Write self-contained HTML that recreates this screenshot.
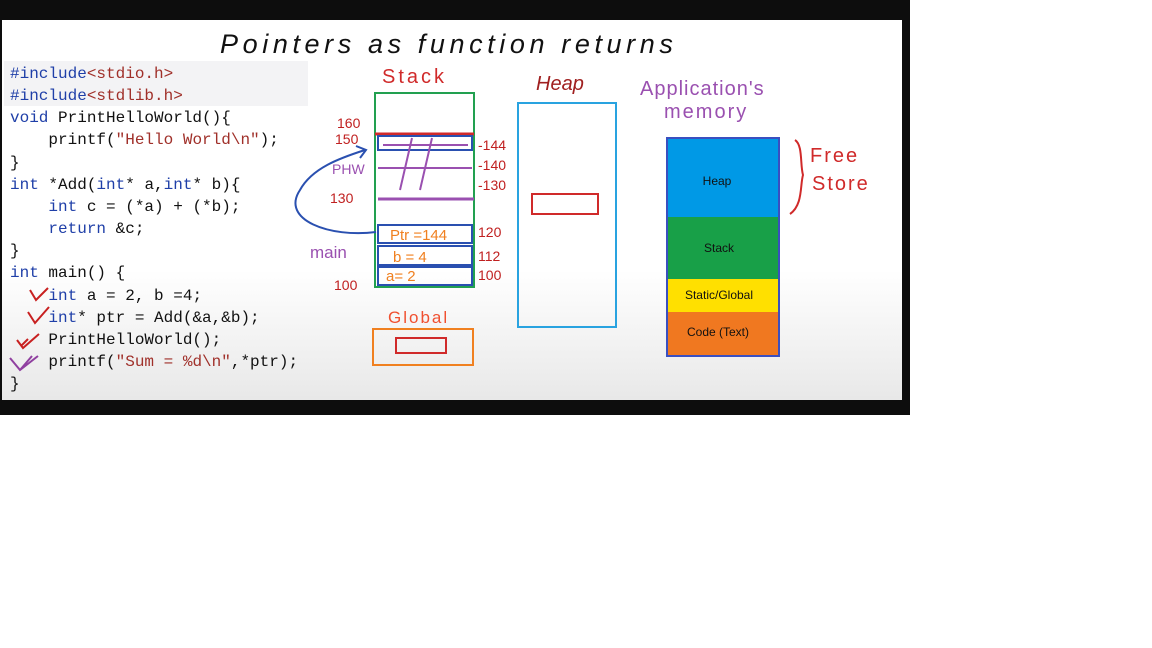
<!DOCTYPE html>
<html><head><meta charset="utf-8"><style>
body{margin:0;width:1152px;height:648px;background:#fff;position:relative;overflow:hidden;font-family:"Liberation Sans",sans-serif}
#frame{position:absolute;left:0;top:0;width:910px;height:415px;background:#0d0d0d}
#slide{position:absolute;left:2px;top:20px;width:900px;height:380px;background:linear-gradient(#fff 0,#fff 250px,#e8e8e8 380px)}
#code{position:absolute;left:8px;top:43px;font:16px/22.15px "Liberation Mono",monospace;color:#111;white-space:pre;margin:0}
.k{color:#1f3fa8}.s{color:#a0302a}
#inc{position:absolute;left:2px;top:41px;width:304px;height:45px;background:#f3f3f5}
svg{position:absolute;left:0;top:0}
</style></head><body>
<div id="frame"></div>
<div id="slide">
<div id="inc"></div>
<pre id="code"><span class="k">#include</span><span class="s">&lt;stdio.h&gt;</span>
<span class="k">#include</span><span class="s">&lt;stdlib.h&gt;</span>
<span class="k">void</span> PrintHelloWorld(){
    printf(<span class="s">"Hello World\n"</span>);
}
<span class="k">int</span> *Add(<span class="k">int</span>* a,<span class="k">int</span>* b){
    <span class="k">int</span> c = (*a) + (*b);
    <span class="k">return</span> &amp;c;
}
<span class="k">int</span> main() {
    <span class="k">int</span> a = 2, b =4;
    <span class="k">int</span>* ptr = Add(&amp;a,&amp;b);
    PrintHelloWorld();
    printf(<span class="s">"Sum = %d\n"</span>,*ptr);
}</pre>
</div>
<svg width="1152" height="648" font-family="Liberation Sans, sans-serif">
<text x="220" y="53" font-size="27" font-style="italic" fill="#111" letter-spacing="4.6">Pointers  as  function  returns</text>
<path d="M30 290 l6 10 l12 -12" stroke="#c82020" stroke-width="2" fill="none"/>
<path d="M28 312 l7 11 l14 -16" stroke="#c82020" stroke-width="2" fill="none"/>
<path d="M17 340 l6 8 l16 -14 M22 345 l6 -6" stroke="#c82020" stroke-width="2" fill="none"/>
<path d="M10 358 l10 12 l18 -14 M20 370 l12 -14" stroke="#9040a0" stroke-width="2" fill="none"/>
<text x="382" y="83" font-size="20" fill="#d02a2a" letter-spacing="3">Stack</text>
<rect x="375" y="93" width="99" height="194" fill="none" stroke="#22a050" stroke-width="2"/>
<line x1="375" y1="134" x2="474" y2="134" stroke="#d02a2a" stroke-width="3"/>
<rect x="378" y="136" width="94" height="14" fill="none" stroke="#2a50b0" stroke-width="2"/>
<line x1="383" y1="145" x2="468" y2="145" stroke="#9a50b0" stroke-width="2"/>
<line x1="378" y1="168" x2="472" y2="168" stroke="#9a50b0" stroke-width="2"/>
<line x1="378" y1="199" x2="474" y2="199" stroke="#9a50b0" stroke-width="3"/>
<path d="M412 138 L400 190 M432 138 L420 190" stroke="#9a50b0" stroke-width="2"/>
<rect x="378" y="225" width="94" height="18" fill="none" stroke="#2a50b0" stroke-width="2"/>
<rect x="378" y="246" width="94" height="19" fill="none" stroke="#2a50b0" stroke-width="2"/>
<rect x="378" y="267" width="94" height="18" fill="none" stroke="#2a50b0" stroke-width="2"/>
<text x="390" y="240" font-size="15" fill="#f08020">Ptr =144</text>
<text x="393" y="262" font-size="15" fill="#f08020">b = 4</text>
<text x="386" y="281" font-size="15" fill="#f08020">a= 2</text>
<g font-size="14" fill="#c02020">
<text x="337" y="128">160</text><text x="335" y="144">150</text>
<text x="478" y="150">-144</text><text x="478" y="170">-140</text><text x="478" y="190">-130</text>
<text x="330" y="203">130</text><text x="334" y="290">100</text>
<text x="478" y="237">120</text><text x="478" y="261">112</text><text x="478" y="280">100</text>
</g>
<text x="332" y="174" font-size="14" fill="#9a50b0">PHW</text>
<text x="310" y="258" font-size="17" fill="#9a50b0">main</text>
<path d="M376 232 C330 238 280 220 300 190 C312 168 340 158 365 150" stroke="#2a50b0" stroke-width="2" fill="none"/>
<path d="M356 146 l10 4 l-6 8" stroke="#2a50b0" stroke-width="2" fill="none"/>
<text x="388" y="323" font-size="17" fill="#f05030" letter-spacing="2">Global</text>
<rect x="373" y="329" width="100" height="36" fill="none" stroke="#f08020" stroke-width="2"/>
<rect x="396" y="338" width="50" height="15" fill="none" stroke="#d02a2a" stroke-width="2"/>
<text x="536" y="90" font-size="20" font-style="italic" fill="#a02020">Heap</text>
<rect x="518" y="103" width="98" height="224" fill="none" stroke="#29a3e0" stroke-width="2"/>
<rect x="532" y="194" width="66" height="20" fill="none" stroke="#d02a2a" stroke-width="2"/>
<text x="640" y="95" font-size="20" fill="#9a50b0" letter-spacing="1">Application's</text>
<text x="664" y="118" font-size="20" fill="#9a50b0" letter-spacing="2">memory</text>
<g>
<rect x="666" y="137" width="114" height="220" fill="#3a4fc0"/>
<rect x="668" y="139" width="110" height="78" fill="#0099e6"/>
<rect x="668" y="217" width="110" height="62" fill="#18a048"/>
<rect x="668" y="279" width="110" height="33" fill="#ffe000"/>
<rect x="668" y="312" width="110" height="43" fill="#f07820"/>
<g font-size="12" fill="#111" text-anchor="middle">
<text x="717" y="185">Heap</text><text x="719" y="252">Stack</text>
<text x="719" y="299">Static/Global</text><text x="718" y="336">Code (Text)</text></g>
</g>
<path d="M795 140 C803 145 800 165 803 175 C800 185 803 205 790 214" stroke="#d02a2a" stroke-width="2" fill="none"/>
<text x="810" y="162" font-size="20" fill="#d02a2a" letter-spacing="2">Free</text>
<text x="812" y="190" font-size="20" fill="#d02a2a" letter-spacing="2">Store</text>
</svg>
</body></html>
